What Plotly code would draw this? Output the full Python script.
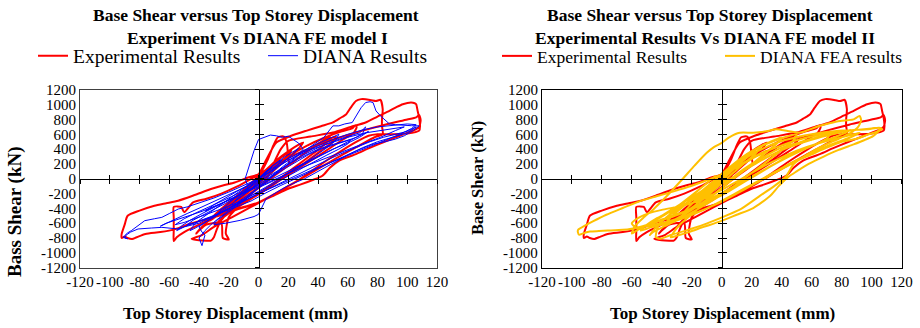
import plotly.graph_objects as go

# ---------------- data ----------------
X_TICKS = [-120, -100, -80, -60, -40, -20, 0, 20, 40, 60, 80, 100, 120]
X_TICK_LABELS = ["-120", "-100", "-80", "-60", "-40", "-20", "0", "20", "40", "60", "80", "100", "120"]
Y_TICKS = [-1200, -1000, -800, -600, -400, -200, 0, 200, 400, 600, 800, 1000, 1200]
Y_TICK_LABELS = ["-1200", "-1000", "-800", "-600", "-400", "-200", "0", "200", "400", "600", "800", "1000", "1200"]

# Experimental results (red), top storey displacement (mm) / base shear (kN)
EXP_X = [0, 4, 8, 10, 8, 3, -2, -6, -9, -7, -2,
         4, 9, 14, 12, 6, 0, -6, -12, -15, -12, -6,
         0, 7, 14, 20, 22, 19, 11, 3, -5, -13, -20, -23, -20, -12, -4,
         4, 12, 20, 27, 30, 27, 18, 8, -2, -12, -22, -30, -33, -29, -20, -10,
         0, 6, 10, 13, 17, 19, 20, 21, 28, 36, 44, 48, 45, 36, 24, 12, 0, -12, -20, -22, -20, -24, -25, -35, -40, -42, -38, -32, -22, -12, -2,
         8, 20, 32, 45, 56, 63, 65, 66, 64, 56, 44, 30, 16, 2, -12, -26, -40, -50, -55, -57, -57, -57, -57, -52, -50, -44, -35, -25, -15, -5, 0,
         5, 12, 22, 32, 42, 50, 55, 59, 62, 65.5, 69, 72, 76, 79, 82, 83.5, 83, 83, 83.5, 78, 68, 56, 44, 32, 20, 8, -5, -18, -30, -38, -45, -40, -35, -32, -30, -28, -25, -20, -12, -4, 4, 12,
         20, 30, 40, 48, 52, 50, 42, 32, 20, 8, -4, -16, -26, -30, -27, -22, -14, -5, 5,
         10, 15, 20, 35, 50, 62, 72, 80, 88, 93, 97, 102.5, 105, 106, 107, 108, 108.6, 108, 100, 90, 80, 74, 66, 56, 46, 36, 26, 14, 0,
         -15, -30, -45, -56, -66, -76, -82, -85, -88, -90, -92, -92, -90, -88, -80, -70, -62, -54, -43, -32, -24, -16, -8, 0,
         10, 25, 40, 55, 70, 85, 100, 106, 108, 109, 108, 106, 95, 83.5, 74, 65.5, 54, 48, 43, 36, 28, 20, 10, 0, -8, -14]
EXP_Y = [0, 70, 140, 170, 120, 30, -50, -120, -170, -130, -40,
         80, 170, 250, 200, 90, -20, -130, -230, -280, -220, -110,
         0, 150, 270, 350, 380, 300, 160, 20, -120, -260, -370, -410, -340, -190, -50,
         100, 250, 370, 460, 490, 410, 250, 70, -100, -270, -420, -530, -570, -480, -320, -150,
         40, 250, 450, 560, 570, 480, 300, 190, 300, 420, 520, 560, 470, 330, 150, -30, -200, -350, -520, -740, -820, -800, -600, -620, -700, -740, -650, -540, -380, -220, -60,
         120, 300, 440, 560, 640, 680, 720, 700, 620, 520, 360, 180, 0, -180, -340, -480, -620, -720, -790, -840, -700, -520, -380, -380, -450, -320, -270, -200, -110, 0, 60,
         250, 490, 580, 647, 710, 760, 820, 872, 960, 1050, 1075, 1074, 1060, 1050, 1065, 940, 800, 714, 602, 560, 450, 320, 180, 40, -100, -240, -380, -520, -650, -760, -813, -830, -836, -836, -790, -680, -560, -450, -320, -190, -60, 60,
         180, 330, 460, 540, 570, 500, 380, 230, 60, -110, -260, -410, -560, -650, -580, -480, -340, -190, -20,
         200, 400, 512, 570, 624, 700, 759, 840, 916, 970, 1006, 1029, 1020, 1006, 916, 826, 714, 650, 610, 600, 600, 580, 500, 380, 250, 110, -30, -170, -320,
         -420, -520, -600, -680, -720, -745, -790, -813, -800, -780, -800, -745, -620, -500, -430, -364, -330, -296, -220, -139, -90, -50, 10, 60,
         180, 330, 450, 560, 650, 730, 800, 830, 860, 790, 700, 670, 580, 490, 410, 333, 243, 150, 40, -20, -80, -135, -230, -320, -370, -400]

# DIANA FE model I (blue)
D1_X = [0, 3, 6, 9, 7, 2, -3, -7, -9, -6, -1,
        5, 10, 14, 16, 13, 7, 0, -7, -13, -16, -12, -5,
        2, 9, 17, 24, 27, 23, 15, 6, -3, -12, -20, -26, -28, -24, -16, -7,
        -9, -6, -3, 0, 4, 8, 12, 16, 20, 23, 27, 30, 26, 18, 10, 0, -10, -20, -30, -38, -42, -46, -44, -40, -33, -24, -14, -4,
        6, 16, 26, 36, 44, 50, 54, 52, 46, 36, 24, 12, 0, -12, -24, -34, -40, -38, -36, -38, -40, -36, -32, -26, -18, -8, 0,
        8, 16, 24, 34, 44, 50, 54, 58, 63, 66, 69, 72, 75, 77, 79, 82, 85, 88, 92, 98, 103, 108, 104, 98, 92, 85, 77, 66, 55, 45, 35, 25, 15, 5, -5,
        -15, -25, -35, -45, -54, -60, -65, -72, -81, -86, -89, -90, -88, -91, -90, -88, -85.5, -80, -76.5, -70, -65, -60, -54, -48, -40, -30, -20, -10, 0,
        10, 20, 30, 40, 50, 60, 70, 80, 90, 100, 106, 103, 95, 85, 75, 65, 55, 45, 35, 25, 15, 5, 0,
        -10, -20, -30, -40, -50, -55, -52, -46, -38, -28, -18, -8, 0,
        8, 18, 28, 38, 48, 58, 68, 72, 70, 62, 52, 42, 32, 22, 12, 0,
        -10, -20, -28, -30, -22, -12, -3, 0, 3, 5, 12, 20, 31, 40, 50, 60, 70, 80, 90, 100, 106,
        100, 92, 84, 75, 66, 58, 48, 38, 28, 18, 8, -2, -12, -22, -32, -42, -48, -44, -38, -30, -22, -14, -6, 2,
        10, 18, 26, 34, 42, 50, 58, 62, 60, 54, 46, 38, 30, 22, 14, 6, -4, -14, -24, -34, -44, -50, -56, -50, -42, -34, -26, -18, -10, -2,
        6, 14, 22, 30, 38, 46, 54, 60, 66, 70, 74, 68, 60, 50, 40, 30, 20, 10, 0, -10, -20, -30, -36, -30, -22, -14, -6, 2,
        12, 24, 36, 48, 60, 72, 84, 94, 98, 92, 82, 70, 58, 46, 34, 22, 10, -2, -14, -26, -38, -50, -62, -66, -58, -48, -38, -28, -18, -8, 0]
D1_Y = [0, 40, 110, 160, 120, 20, -60, -140, -180, -110, -10,
        100, 180, 230, 260, 190, 80, -50, -170, -260, -300, -220, -90,
        50, 170, 290, 380, 410, 330, 190, 40, -110, -250, -370, -450, -480, -400, -260, -110,
        0, 200, 380, 530, 560, 590, 580, 560, 575, 535, 480, 400, 300, 170, 40, -120, -260, -400, -520, -620, -660, -700, -640, -560, -460, -330, -190, -50,
        100, 230, 340, 440, 510, 560, 600, 520, 420, 280, 120, -30, -170, -310, -440, -560, -650, -720, -760, -903, -800, -700, -620, -520, -400, -250, -130,
        20, 160, 280, 420, 560, 714, 714, 740, 759, 860, 960, 1029, 1040, 1029, 916, 849, 790, 740, 730, 720, 716, 714, 650, 580, 535, 500, 467, 380, 280, 190, 100, 10, -90, -190, -300,
        -380, -460, -540, -610, -678, -670, -656, -665, -678, -720, -760, -800, -810, -790, -768, -730, -700, -620, -566, -540, -521, -470, -409, -380, -330, -260, -180, -90, 0,
        120, 250, 360, 450, 530, 600, 660, 700, 720, 740, 730, 680, 600, 520, 440, 360, 280, 200, 110, 20, -70, -150, -200,
        -300, -400, -500, -600, -650, -700, -640, -560, -470, -370, -270, -170, -80,
        30, 170, 300, 400, 490, 560, 620, 700, 610, 520, 420, 320, 210, 100, -10, -120,
        -300, -450, -560, -620, -600, -560, -510, -480, -360, -273, -184, -90, 0, 100, 200, 320, 420, 500, 560, 620, 700,
        640, 600, 560, 500, 430, 360, 270, 170, 80, -20, -120, -220, -330, -430, -520, -590, -620, -560, -500, -420, -330, -240, -150, -60,
        40, 140, 240, 330, 400, 450, 500, 530, 470, 400, 320, 240, 150, 60, -30, -120, -220, -320, -400, -470, -540, -590, -620, -540, -460, -390, -320, -240, -160, -70,
        30, 120, 220, 300, 380, 440, 480, 520, 560, 600, 640, 560, 480, 400, 300, 200, 100, 10, -90, -190, -290, -380, -440, -350, -260, -170, -80, 20,
        160, 290, 400, 480, 560, 620, 660, 690, 700, 650, 560, 470, 380, 290, 190, 90, -20, -130, -240, -340, -440, -520, -600, -640, -560, -470, -380, -290, -200, -110, -30]

# DIANA FE model II (yellow)
D2_X = [0, 4, 8, 10, 7, 2, -3, -8, -10, -7, -2,
        5, 11, 16, 13, 6, -1, -8, -14, -17, -13, -6,
        4, 12, 20, 26, 23, 15, 6, -4, -14, -22, -26, -22, -14, -5,
        5, 15, 25, 35, 40, 37, 28, 16, 4, -8, -20, -32, -38, -34, -26, -16, -6,
        6, 18, 30, 42, 50, 48, 40, 28, 16, 4, -10, -24, -38, -46, -48, -44, -38, -30, -20, -10,
        -4, -16, -30, -44, -56, -60, -58, -52, -45, -36, -26, -18, -10, -5, 0, 5, 12, 21, 30, 36, 44, 52, 58, 65, 72, 79, 84, 88, 92, 93, 91, 86, 78, 68, 58, 48, 43, 35, 25, 12, -1, -12, -24, -34, -41, -44, -43.5, -42, -38, -30, -20, -10, 0,
        10, 20, 30, 40, 50, 60, 70, 80, 90, 98, 105, 107, 105, 101, 95, 88, 78, 68, 58, 50, 45, 38, 32, 21, 10, -1, -12, -22, -30, -34, -32, -28, -20, -10, 0,
        10, 20, 30, 40, 50, 60, 68, 72, 70, 62, 52, 42, 32, 22, 12, 2,
        -10, -22, -34, -46, -56, -66, -76, -82, -88, -93, -95, -96, -95.8, -91, -86, -77, -66, -55, -43.5, -32, -21, -10, 0,
        10, 20, 30, 40, 50, 60, 70, 80, 90, 100, 106, 104, 98, 90, 80, 70, 60, 50, 40, 30, 20, 10, 0, -10, -20, -30, -40, -50, -58, -60, -55, -48, -40, -30, -20, -10, 0,
        10, 20, 30, 40, 50, 60, 70, 80, 88, 92,
        86, 78, 68, 58, 48, 38, 28, 18, 8, -2, -12, -24, -36, -48, -54, -50, -44, -36, -26, -16, -6, 4,
        14, 24, 34, 44, 54, 64, 74, 82, 86, 80, 70, 60, 50, 40, 30, 20, 10, 0, -10, -20, -30, -40, -46, -40, -32, -24, -16, -8, 0,
        10, 20, 30]
D2_Y = [0, 80, 150, 190, 120, 20, -70, -150, -190, -120, -20,
        110, 220, 300, 230, 90, -40, -170, -280, -320, -240, -100,
        100, 250, 360, 430, 350, 210, 50, -130, -300, -420, -470, -380, -230, -70,
        130, 300, 430, 520, 560, 480, 330, 130, -60, -250, -420, -560, -620, -520, -380, -210, -40,
        170, 350, 470, 560, 600, 520, 390, 200, 20, -160, -340, -500, -640, -720, -760, -660, -540, -400, -230, -60,
        40, -160, -380, -560, -690, -740, -640, -520, -400, -220, 0, 180, 350, 430, 485, 560, 621, 621, 640, 667, 645, 621, 660, 712, 750, 780, 790, 802, 847, 790, 700, 620, 540, 450, 340, 200, 34, -100, -237, -418, -531, -620, -700, -760, -811, -790, -712, -620, -540, -420, -280, -140, 0,
        180, 330, 430, 510, 560, 600, 630, 650, 660, 670, 690, 670, 645, 576, 520, 464, 390, 300, 200, 100, 34, -100, -237, -395, -486, -576, -650, -720, -770, -790, -720, -620, -480, -300, -120,
        60, 200, 320, 420, 480, 540, 580, 600, 540, 460, 380, 280, 160, 40, -80, -200,
        -320, -430, -520, -600, -660, -689, -700, -706, -712, -740, -757, -720, -689, -630, -576, -486, -395, -305, -237, -170, -102, -20, 60,
        150, 270, 370, 450, 520, 570, 610, 640, 660, 680, 690, 640, 600, 540, 500, 420, 330, 240, 130, 20, -90, -200, -310, -400, -480, -540, -600, -640, -650, -600, -520, -460, -420, -380, -330, -250, -150,
        -40, 80, 190, 290, 380, 450, 510, 560, 600, 620,
        560, 500, 420, 330, 230, 120, 10, -100, -210, -320, -420, -520, -600, -660, -700, -620, -540, -460, -360, -250, -140, -20,
        100, 220, 330, 420, 490, 550, 600, 640, 660, 600, 520, 440, 350, 250, 140, 30, -80, -190, -300, -400, -480, -550, -600, -500, -400, -300, -200, -90, 20,
        160, 280, 380]

RED = "#FF0000"
BLUE = "#0000FF"
GOLD = "#FFC000"
SERIF = "Liberation Serif"

# ---------------- figure ----------------
fig = go.Figure()

fig.add_trace(go.Scatter(x=EXP_X, y=EXP_Y, mode="lines", name="Experimental Results",
                         line=dict(color=RED, width=2, shape="spline", smoothing=0.6),
                         xaxis="x", yaxis="y", legend="legend"))
fig.add_trace(go.Scatter(x=D1_X, y=D1_Y, mode="lines", name="DIANA Results",
                         line=dict(color=BLUE, width=1, shape="linear"),
                         xaxis="x", yaxis="y", legend="legend"))
fig.add_trace(go.Scatter(x=EXP_X, y=EXP_Y, mode="lines", name="Experimental Results",
                         line=dict(color=RED, width=2, shape="spline", smoothing=0.6),
                         xaxis="x2", yaxis="y2", legend="legend2"))
fig.add_trace(go.Scatter(x=D2_X, y=D2_Y, mode="lines", name="DIANA FEA results",
                         line=dict(color=GOLD, width=2, shape="spline", smoothing=0.6),
                         xaxis="x2", yaxis="y2", legend="legend2"))

# empty traces so that the crossing zero axes (with tick marks) are drawn
for xa, ya in [("x3", "y3"), ("x4", "y4"), ("x5", "y5"), ("x6", "y6")]:
    fig.add_trace(go.Scatter(x=[None], y=[None], xaxis=xa, yaxis=ya, showlegend=False,
                             hoverinfo="skip"))

Y_DOM = [0.184, 0.726]
Y_MID = (Y_DOM[0] + Y_DOM[1]) / 2
XL_DOM = [0.087, 0.475]
XR_DOM = [0.589, 0.980]

tickfont = dict(family=SERIF, size=15, color="black")

def frame_x(domain, anchor, lc):
    return dict(domain=domain, anchor=anchor, range=[-120, 120], tickvals=X_TICKS,
                ticktext=X_TICK_LABELS, ticks="", showline=True, mirror=True, tickangle=0,
                linecolor=lc, linewidth=1, showgrid=False, zeroline=False, automargin=False,
                tickfont=tickfont, fixedrange=True)

def frame_y(anchor, lc):
    return dict(domain=Y_DOM, anchor=anchor, range=[-1200, 1200], tickvals=Y_TICKS,
                ticktext=Y_TICK_LABELS, ticks="", showline=True, mirror=True,
                linecolor=lc, linewidth=1, showgrid=False, zeroline=False, automargin=False,
                tickfont=tickfont, fixedrange=True)

def zero_x(over, side):
    return dict(overlaying=over, anchor="free", position=Y_MID, range=[-120, 120],
                tickvals=X_TICKS, ticks=side, ticklen=4, tickcolor="black",
                showticklabels=False, showline=True, linecolor="black", linewidth=1,
                showgrid=False, zeroline=False, automargin=False)

def zero_y(over, side, pos):
    return dict(overlaying=over, anchor="free", position=pos, range=[-1200, 1200],
                tickvals=Y_TICKS, ticks=side, ticklen=4, tickcolor="black",
                showticklabels=False, showline=True, linecolor="black", linewidth=1,
                showgrid=False, zeroline=False, automargin=False)

XL_MID = (XL_DOM[0] + XL_DOM[1]) / 2
XR_MID = (XR_DOM[0] + XR_DOM[1]) / 2

fig.update_layout(
    template="none",
    width=920, height=328,
    margin=dict(l=0, r=0, t=0, b=0, autoexpand=False),
    paper_bgcolor="white", plot_bgcolor="white",
    font=dict(family=SERIF, color="black"),
    xaxis=frame_x(XL_DOM, "y", "#404040"),
    yaxis=frame_y("x", "#404040"),
    xaxis2=frame_x(XR_DOM, "y2", "black"),
    yaxis2=frame_y("x2", "black"),
    xaxis3=zero_x("x", "outside"), yaxis3=zero_y("y", "outside", XL_MID),
    xaxis4=zero_x("x", "inside"), yaxis4=zero_y("y", "inside", XL_MID),
    xaxis5=zero_x("x2", "outside"), yaxis5=zero_y("y2", "outside", XR_MID),
    xaxis6=zero_x("x2", "inside"), yaxis6=zero_y("y2", "inside", XR_MID),
    showlegend=True,
    legend=dict(orientation="h", x=33 / 920, y=(328 - 56) / 328, xanchor="left", yanchor="middle",
                bgcolor="rgba(0,0,0,0)", font=dict(family=SERIF, size=19.5, color="black"),
                entrywidth=185, entrywidthmode="pixels", tracegroupgap=0),
    legend2=dict(orientation="h", x=497 / 920, y=(328 - 56) / 328, xanchor="left", yanchor="middle",
                 bgcolor="rgba(0,0,0,0)", font=dict(family=SERIF, size=17.5, color="black"),
                 entrywidth=178, entrywidthmode="pixels", tracegroupgap=0),
)

title_font = dict(family=SERIF, size=17.5, color="black")
axis_title_font = dict(family=SERIF, size=17, color="black")

def paper_note(text, xpx, ypx, font, angle=0):
    fig.add_annotation(text=text, x=xpx / 920, y=1 - ypx / 328, xref="paper", yref="paper",
                       xanchor="center", yanchor="middle", showarrow=False, font=font,
                       textangle=angle)

paper_note("<b>Base Shear versus Top Storey Displacement</b>", 256, 15, title_font)
paper_note("<b>Experiment Vs DIANA FE model I</b>", 257, 38, title_font)
paper_note("<b>Base Shear versus Top Storey Displacement</b>", 710, 15, title_font)
paper_note("<b>Experimental Results Vs DIANA FE model II</b>", 705, 38, title_font)
paper_note("<b>Top Storey Displacement (mm)</b>", 235, 313, axis_title_font)
paper_note("<b>Top Storey Displacement (mm)</b>", 722, 313, axis_title_font)
paper_note("<b>Bass Shear (kN)</b>", 15, 212, dict(family=SERIF, size=19, color="black"), -90)
paper_note("<b>Base Shear (kN)</b>", 477, 178, dict(family=SERIF, size=16.5, color="black"), -90)

fig.write_html("out.html", config={"displayModeBar": False},
               post_script="document.body.style.margin='0';document.body.style.padding='0';")
